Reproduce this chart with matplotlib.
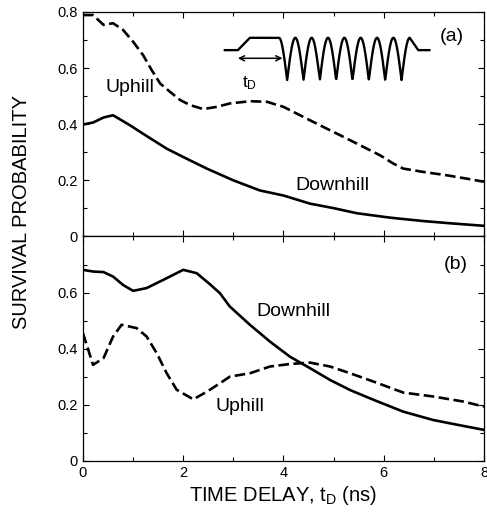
import numpy as np
import matplotlib
matplotlib.use("Agg")
import matplotlib.pyplot as plt
from matplotlib.ticker import MultipleLocator, FixedLocator

plt.rcParams['font.family'] = ['Liberation Sans', 'DejaVu Sans']

# panel (a)
a_up_x = [0, 0.2, 0.41, 0.6, 0.8, 1.0, 1.2, 1.37, 1.54, 1.74, 1.94, 2.14, 2.4, 2.67,
          2.93, 3.33, 3.67, 4.0, 4.33, 4.73, 5.06, 5.33, 5.53, 5.93, 6.19, 6.39,
          6.79, 7.26, 7.66, 8.0]
a_up_y = [0.789, 0.789, 0.754, 0.76, 0.736, 0.694, 0.646, 0.593, 0.545, 0.515, 0.486,
          0.468, 0.454, 0.462, 0.474, 0.482, 0.48, 0.462, 0.432, 0.396, 0.367, 0.343,
          0.325, 0.289, 0.26, 0.242, 0.23, 0.218, 0.206, 0.195]
a_down_x = [0, 0.2, 0.41, 0.6, 0.94, 1.27, 1.67, 2.07, 2.47, 3.0, 3.53, 4.0, 4.53,
            5.0, 5.46, 6.13, 6.79, 7.33, 8.0]
a_down_y = [0.399, 0.406, 0.424, 0.432, 0.396, 0.358, 0.313, 0.277, 0.242, 0.2, 0.164,
            0.146, 0.117, 0.101, 0.083, 0.067, 0.055, 0.047, 0.038]

# panel (b)
b_down_x = [0, 0.2, 0.41, 0.6, 0.8, 1.0, 1.27, 1.6, 2.0, 2.27, 2.53, 2.73, 2.93, 3.33,
            3.73, 4.13, 4.53, 4.93, 5.33, 5.8, 6.39, 6.99, 7.59, 8.0]
b_down_y = [0.681, 0.675, 0.673, 0.657, 0.627, 0.606, 0.616, 0.645, 0.681, 0.669, 0.63,
            0.598, 0.55, 0.485, 0.425, 0.371, 0.33, 0.288, 0.252, 0.217, 0.175, 0.145,
            0.124, 0.11]
b_up_x = [0, 0.2, 0.41, 0.6, 0.77, 1.07, 1.27, 1.47, 1.67, 1.87, 2.2, 2.47, 2.73, 2.93,
          3.33, 3.73, 4.13, 4.53, 4.93, 5.33, 5.8, 6.39, 6.99, 7.59, 8.0]
b_up_y = [0.455, 0.342, 0.366, 0.443, 0.485, 0.473, 0.443, 0.384, 0.312, 0.253, 0.219,
          0.246, 0.276, 0.3, 0.312, 0.336, 0.345, 0.35, 0.336, 0.312, 0.282, 0.243,
          0.229, 0.211, 0.193]

LW = 1.9
DASH = (4, 1.7)
FS = 14


def style_axes(ax):
    ax.set_xlim(0, 8)
    ax.set_ylim(0, 0.8)
    ax.xaxis.set_major_locator(MultipleLocator(2))
    ax.xaxis.set_minor_locator(MultipleLocator(1))
    ax.yaxis.set_major_locator(MultipleLocator(0.2))
    ax.yaxis.set_minor_locator(MultipleLocator(0.1))
    ax.tick_params(which='both', direction='in', top=True, right=True,
                   labelsize=10.5, width=0.8)
    ax.tick_params(which='major', length=4.5, pad=4)
    ax.tick_params(which='minor', length=3)
    for s in ax.spines.values():
        s.set_linewidth(0.9)
    ax.yaxis.set_major_formatter(plt.FuncFormatter(lambda v, p: '0' if abs(v) < 1e-9 else f'{v:.1f}'))


fig = plt.figure(figsize=(4.87, 5.14), dpi=100)
ax1 = fig.add_axes([0.1704, 0.5399, 0.8234, 0.4368])
ax2 = fig.add_axes([0.1704, 0.1037, 0.8234, 0.4362])

# (a)
ax1.plot(a_up_x, a_up_y, color='black', lw=LW, ls=(0, DASH))
ax1.plot(a_down_x, a_down_y, color='black', lw=LW)
style_axes(ax1)
ax1.tick_params(labelbottom=False)
ax1.text(0.93, 0.532, 'Uphill', fontsize=FS, ha='center', va='center')
ax1.text(4.97, 0.182, 'Downhill', fontsize=FS, ha='center', va='center')
ax1.text(7.36, 0.712, '(a)', fontsize=FS, ha='center', va='center')

# pulse schematic (inset drawing)
base, top, bot = 0.664, 0.708, 0.557
period = 0.326
x0 = 3.91
xs = [2.83, 3.09, 3.33, x0]
ys = [base, base, top, top]
xo = np.linspace(x0, x0 + 8 * period, 400)
yo = bot + (top - bot) * np.abs(np.cos(np.pi * (xo - x0) / period))
xs = xs + list(xo) + [6.69, 6.91]
ys = ys + list(yo) + [base, base]
ax1.plot(xs, ys, color='black', lw=1.7, solid_joinstyle='round')
ax1.annotate('', xy=(3.09, 0.635), xytext=(3.98, 0.635),
             arrowprops=dict(arrowstyle='<->', color='black', lw=1.1,
                             shrinkA=0, shrinkB=0, mutation_scale=9))
ax1.text(3.33, 0.548, '$\\mathregular{t_D}$', fontsize=12.5, ha='center', va='center')

# (b)
ax2.plot(b_down_x, b_down_y, color='black', lw=LW)
ax2.plot(b_up_x, b_up_y, color='black', lw=LW, ls=(0, DASH))
style_axes(ax2)
ax2.yaxis.set_major_locator(FixedLocator([0, 0.2, 0.4, 0.6]))
ax2.text(4.2, 0.533, 'Downhill', fontsize=FS, ha='center', va='center')
ax2.text(3.13, 0.193, 'Uphill', fontsize=FS, ha='center', va='center')
ax2.text(7.43, 0.70, '(b)', fontsize=FS, ha='center', va='center')
ax2.set_xlabel('TIME DELAY, $\\mathregular{t_D}$ (ns)', fontsize=14.5, labelpad=3)

fig.text(0.045, 0.588, 'SURVIVAL PROBABILITY', rotation=90, fontsize=14.5,
         ha='center', va='center')

fig.savefig('out.png', dpi=100)
